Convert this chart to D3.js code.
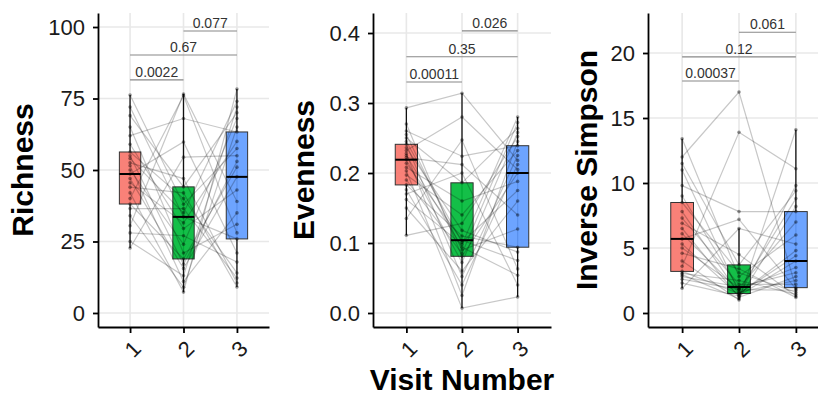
<!DOCTYPE html>
<html>
<head>
<meta charset="utf-8">
<script src="https://cdn.jsdelivr.net/npm/d3@7"></script>
<style>
  body { margin: 0; background: #fff; }
  svg { display: block; }
</style>
</head>
<body>
<script>
// visits on the x axis
const visits = ['1', '2', '3'];
const boxColors = ['#F8766D', '#00BA38', '#619CFF'];

// one value per subject, same subject order in each array
const richnessV1 = [22.7, 25, 28, 30.5, 34, 36.5, 38.1, 40, 42, 44, 45.5, 47, 48.6, 50, 51.5, 52.5, 54, 55, 56.3, 59, 62, 65, 69, 72, 76.2];
const richnessV2 = [54.5, 13, 27, 76.6, 9, 36.5, 18.9, 76, 7.3, 42, 31.5, 15.5, 59.8, 24, 11, 47, 35, 17, 40, 29.5, 68, 21, 44.1, 33.6, 38];
const richnessV3 = [55, 72, 17.8, 39, 65, 12.2, 51, 28, 78.3, 9.1, 60, 47.6, 21, 68, 35, 10.5, 74, 53, 14, 43, 63.3, 31, 70, 25.9, 57.5];

const evennessV1 = [0.111, 0.135, 0.150, 0.162, 0.170, 0.176, 0.183, 0.190, 0.197, 0.203, 0.208, 0.214, 0.219, 0.222, 0.225, 0.228, 0.232, 0.236, 0.241, 0.245, 0.250, 0.255, 0.260, 0.270, 0.293];
const evennessV2 = [0.128, 0.247, 0.060, 0.098, 0.200, 0.040, 0.110, 0.085, 0.140, 0.007, 0.160, 0.104, 0.072, 0.212, 0.094, 0.025, 0.280, 0.118, 0.052, 0.101, 0.186, 0.090, 0.224, 0.081, 0.314];
const evennessV3 = [0.252, 0.063, 0.160, 0.280, 0.040, 0.212, 0.094, 0.272, 0.232, 0.023, 0.188, 0.075, 0.258, 0.140, 0.054, 0.245, 0.205, 0.087, 0.225, 0.175, 0.264, 0.120, 0.239, 0.200, 0.218];

const invSimpsonV1 = [1.9, 2.3, 2.6, 2.8, 2.95, 3.05, 3.2, 3.6, 4.0, 4.6, 5.0, 5.3, 5.7, 6.1, 6.5, 6.9, 7.3, 7.8, 8.5, 9.0, 9.8, 11.0, 11.5, 12.0, 13.4];
const invSimpsonV2 = [6.5, 1.3, 1.8, 2.0, 1.1, 2.5, 1.5, 13.9, 1.0, 3.4, 1.95, 1.35, 7.2, 1.7, 1.2, 4.5, 2.2, 1.45, 3.1, 1.85, 7.8, 1.6, 3.7, 17.0, 2.8];
const invSimpsonV3 = [5.3, 9.8, 1.75, 3.1, 8.2, 1.45, 4.4, 11.1, 14.1, 1.2, 7.0, 4.0, 1.85, 8.8, 2.8, 1.3, 2.2, 4.8, 1.6, 3.5, 7.8, 2.5, 9.4, 1.95, 6.0];

// y axis ticks
const richnessTicks = [0, 25, 50, 75, 100];
const evennessTicks = [0, 0.1, 0.2, 0.3, 0.4];
const invSimpsonTicks = [0, 5, 10, 15, 20];

// pairwise comparisons and their p-values
const comparisons = [[0, 1], [0, 2], [1, 2]];
const richnessPvals = ['0.0022', '0.67', '0.077'];
const evennessPvals = ['0.00011', '0.35', '0.026'];
const invSimpsonPvals = ['0.00037', '0.12', '0.061'];
const richnessBracketY = [81.5, 90.2, 98.6];
const evennessBracketY = [0.33, 0.366, 0.403];
const invSimpsonBracketY = [17.85, 19.7, 21.6];

const width = 818, height = 396;
const plotTop = 13, plotBottom = 327;

const panels = [
  { title: 'Richness', series: [richnessV1, richnessV2, richnessV3], ticks: richnessTicks,
    fmt: d3.format('d'), pvals: richnessPvals, bracketY: richnessBracketY,
    left: 98, right: 269, domain: [-4.9, 104.9], titleX: 33 },
  { title: 'Evenness', series: [evennessV1, evennessV2, evennessV3], ticks: evennessTicks,
    fmt: d3.format('.1f'), pvals: evennessPvals, bracketY: evennessBracketY,
    left: 373, right: 551, domain: [-0.02, 0.4286], titleX: 314 },
  { title: 'Inverse Simpson', series: [invSimpsonV1, invSimpsonV2, invSimpsonV3], ticks: invSimpsonTicks,
    fmt: d3.format('d'), pvals: invSimpsonPvals, bracketY: invSimpsonBracketY,
    left: 648, right: 830, domain: [-1.077, 23.077], titleX: 597 }
];

const svg = d3.select('body').append('svg')
  .attr('width', width)
  .attr('height', height)
  .style('font-family', '"Liberation Sans", Arial, sans-serif');

function boxStats(values) {
  const s = values.slice().sort(d3.ascending);
  const q1 = d3.quantile(s, 0.25), med = d3.quantile(s, 0.5), q3 = d3.quantile(s, 0.75);
  const iqr = q3 - q1;
  const lo = d3.min(s.filter(v => v >= q1 - 1.5 * iqr));
  const hi = d3.max(s.filter(v => v <= q3 + 1.5 * iqr));
  return { q1, med, q3, lo, hi };
}

panels.forEach(p => {
  const x = d3.scalePoint().domain(visits).range([p.left, p.right]).padding(0.6);
  const y = d3.scaleLinear().domain(p.domain).range([plotBottom, plotTop]);
  const boxW = x.step() * 0.4;
  const g = svg.append('g');

  // grid
  g.selectAll('.hgrid').data(p.ticks).enter().append('line')
    .attr('x1', p.left).attr('x2', p.right)
    .attr('y1', d => y(d)).attr('y2', d => y(d))
    .attr('stroke', '#e8e8e8').attr('stroke-width', 1.6);
  g.selectAll('.vgrid').data(visits).enter().append('line')
    .attr('x1', d => x(d)).attr('x2', d => x(d))
    .attr('y1', plotTop).attr('y2', plotBottom)
    .attr('stroke', '#e8e8e8').attr('stroke-width', 1.6);

  // boxplots
  const stats = p.series.map(boxStats);
  const boxes = g.selectAll('.box').data(stats).enter().append('g');
  boxes.append('line')
    .attr('x1', (d, i) => x(visits[i])).attr('x2', (d, i) => x(visits[i]))
    .attr('y1', d => y(d.lo)).attr('y2', d => y(d.hi))
    .attr('stroke', '#111').attr('stroke-width', 1.3);
  boxes.append('rect')
    .attr('x', (d, i) => x(visits[i]) - boxW / 2)
    .attr('width', boxW)
    .attr('y', d => y(d.q3))
    .attr('height', d => y(d.q1) - y(d.q3))
    .attr('fill', (d, i) => boxColors[i])
    .attr('fill-opacity', 0.92)
    .attr('stroke', '#333').attr('stroke-width', 1);
  boxes.append('line')
    .attr('x1', (d, i) => x(visits[i]) - boxW / 2).attr('x2', (d, i) => x(visits[i]) + boxW / 2)
    .attr('y1', d => y(d.med)).attr('y2', d => y(d.med))
    .attr('stroke', '#000').attr('stroke-width', 2);

  // paired lines per subject
  const subjects = p.series[0].map((v, i) => p.series.map((s, k) => [visits[k], s[i]]));
  const line = d3.line().x(d => x(d[0])).y(d => y(d[1]));
  g.selectAll('.subj').data(subjects).enter().append('path')
    .attr('d', line)
    .attr('fill', 'none')
    .attr('stroke', '#000').attr('stroke-opacity', 0.22).attr('stroke-width', 1.2);

  // points
  g.selectAll('.pt').data(subjects.flat()).enter().append('circle')
    .attr('cx', d => x(d[0])).attr('cy', d => y(d[1]))
    .attr('r', 1.8)
    .attr('fill', '#000').attr('fill-opacity', 0.4);

  // y axis
  const ya = g.append('g')
    .attr('transform', `translate(${p.left},0)`)
    .call(d3.axisLeft(y).tickValues(p.ticks).tickFormat(p.fmt).tickSize(5).tickSizeOuter(0).tickPadding(8));
  ya.select('.domain').attr('stroke', '#000').attr('stroke-width', 1.8);
  ya.selectAll('.tick line').attr('stroke', '#000').attr('stroke-width', 1.8);
  ya.selectAll('.tick text').attr('fill', '#1a1a1a').style('font-size', '22px');

  // x axis
  const xa = g.append('g')
    .attr('transform', `translate(0,${plotBottom})`)
    .call(d3.axisBottom(x).tickSize(6).tickSizeOuter(0));
  xa.select('.domain').attr('stroke', '#000').attr('stroke-width', 1.8);
  xa.selectAll('.tick line').attr('stroke', '#000').attr('stroke-width', 1.8);
  xa.selectAll('.tick text')
    .attr('y', 0).attr('dy', '0.35em')
    .attr('transform', 'translate(2,22) rotate(-45)')
    .attr('fill', '#1a1a1a')
    .style('text-anchor', 'middle')
    .style('font-size', '22px');

  // significance brackets
  comparisons.forEach((c, i) => {
    const x1 = x(visits[c[0]]), x2 = x(visits[c[1]]), yy = y(p.bracketY[i]);
    g.append('line')
      .attr('x1', x1).attr('x2', x2).attr('y1', yy).attr('y2', yy)
      .attr('stroke', '#888').attr('stroke-width', 1.1);
    g.append('text')
      .attr('x', (x1 + x2) / 2).attr('y', yy - 3)
      .attr('text-anchor', 'middle')
      .attr('fill', '#333')
      .style('font-size', '14px')
      .text(p.pvals[i]);
  });

  // y title
  g.append('text')
    .attr('transform', `translate(${p.titleX},${(plotTop + plotBottom) / 2}) rotate(-90)`)
    .attr('text-anchor', 'middle')
    .style('font-size', '30px').style('font-weight', 'bold')
    .text(p.title);
});

svg.append('text')
  .attr('x', 462).attr('y', 390)
  .attr('text-anchor', 'middle')
  .style('font-size', '30px').style('font-weight', 'bold')
  .text('Visit Number');
</script>
</body>
</html>
